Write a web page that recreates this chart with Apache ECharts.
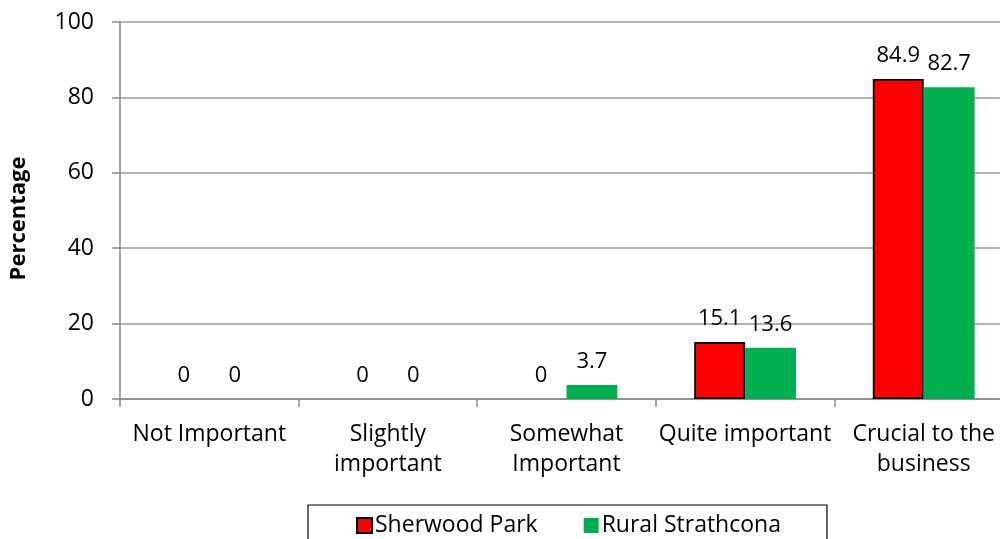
<!DOCTYPE html>
<html>
<head>
<meta charset="utf-8">
<script src="https://cdn.jsdelivr.net/npm/echarts@6/dist/echarts.min.js"></script>
<style>
  html, body { margin: 0; padding: 0; background: #fff; }
  #chart { width: 1000px; height: 539px; }
</style>
</head>
<body>
<div id="chart"></div>
<script>
// categories and values
var categories = ['Not Important', 'Slightly\nimportant', 'Somewhat\nImportant', 'Quite important', 'Crucial to the\nbusiness'];
var sherwoodPark = [0, 0, 0, 15.1, 84.9];
var ruralStrathcona = [0, 0, 3.7, 13.6, 82.7];
var yTicks = [0, 20, 40, 60, 80, 100];

var font = 'Open Sans, Noto Sans, sans-serif';

var labelStyle = {
    show: true,
    position: 'top',
    distance: 12,
    color: '#000',
    fontSize: 22,
    fontFamily: font
};

// zero bars get no outline (nothing visible in the original)
var redData = sherwoodPark.map(function (v) {
    return { value: v, itemStyle: { borderWidth: v > 0 ? 1.8 : 0 } };
});

var option = {
    animation: false,
    grid: {
        left: 120,
        top: 22,
        width: 893,
        height: 377,
        outerBoundsMode: 'none',
        containLabel: false
    },
    xAxis: {
        type: 'category',
        data: categories,
        axisLine: { lineStyle: { color: '#888', width: 1.5 } },
        axisTick: { show: true, length: 8, lineStyle: { color: '#888', width: 1.5 } },
        axisLabel: {
            color: '#000',
            fontSize: 23,
            fontFamily: font,
            lineHeight: 30,
            margin: 20,
            interval: 0
        }
    },
    yAxis: {
        type: 'value',
        min: yTicks[0],
        max: yTicks[yTicks.length - 1],
        interval: 20,
        name: 'Percentage',
        nameLocation: 'middle',
        nameGap: 90,
        nameTextStyle: { color: '#000', fontSize: 22, fontWeight: 'bold', fontFamily: font, padding: [0, 16, 0, 0] },
        axisLine: { show: true, lineStyle: { color: '#888', width: 1.5 } },
        axisTick: { show: true, length: 8, lineStyle: { color: '#888', width: 1.5 } },
        axisLabel: { color: '#000', fontSize: 23, fontFamily: font, margin: 26 },
        splitLine: { lineStyle: { color: '#999', width: 1.5 } }
    },
    legend: {
        left: 308,
        top: 505,
        padding: [9, 46, 14, 48],
        itemGap: 46,
        itemWidth: 15,
        itemHeight: 15,
        icon: 'rect',
        borderColor: '#000',
        borderWidth: 1.2,
        textStyle: { color: '#000', fontSize: 23, fontFamily: font, padding: [0, 0, 0, -2] },
        data: ['Sherwood Park', 'Rural Strathcona']
    },
    series: [
        {
            name: 'Sherwood Park',
            type: 'bar',
            data: redData,
            barGap: '0%',
            barCategoryGap: '43%',
            itemStyle: { color: '#ff0000', borderColor: '#000', borderWidth: 1.8 },
            label: labelStyle
        },
        {
            name: 'Rural Strathcona',
            type: 'bar',
            data: ruralStrathcona,
            barGap: '0%',
            barCategoryGap: '43%',
            itemStyle: { color: '#00b050' },
            label: labelStyle
        }
    ]
};

var myChart = echarts.init(document.getElementById('chart'));
myChart.setOption(option);
</script>
</body>
</html>
